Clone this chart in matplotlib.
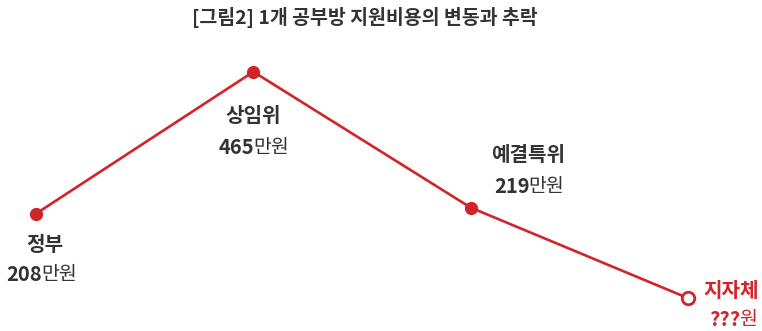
import matplotlib
matplotlib.use("Agg")
import matplotlib.pyplot as plt

plt.rcParams['font.family'] = ['Noto Sans CJK KR', 'DejaVu Sans']

# data
stages = ['정부', '상임위', '예결특위', '지자체']
amounts = [208, 465, 219, 55]          # last one unknown ("???")
amount_text = ['208', '465', '219', '???']
units = ['만원', '만원', '만원', '원']
title = '[그림2] 1개 공부방 지원비용의 변동과 추락'

RED = '#d2232a'
DARK = '#333333'

fig = plt.figure(figsize=(7.62, 3.31), dpi=100)
ax = fig.add_axes([0, 0, 1, 1])
ax.set_xlim(-0.166, 3.341)
ax.set_ylim(-4.6, 595)
ax.axis('off')

xs = list(range(len(stages)))
ax.plot(xs, amounts, color=RED, lw=1.9, zorder=2)
ax.plot(xs[:-1], amounts[:-1], 'o', color=RED, ms=8.5, zorder=3)
ax.plot(xs[-1:], amounts[-1:], 'o', mfc='white', mec=RED, mew=2, ms=9, zorder=3)

# label offsets in pixels: (name dx, name dy, split dx, value dy)
offsets = [(9, -31, 6, -61),
           (0, -44, 1, -76),
           (57, 53, 59, 21),
           (43, 8, 52, -21)]

for i, (name, val, unit) in enumerate(zip(stages, amount_text, units)):
    c = RED if i == len(stages) - 1 else DARK
    ndx, ndy, sdx, vdy = offsets[i]
    ax.annotate(name, (i, amounts[i]), xytext=(ndx, ndy), textcoords='offset pixels',
                ha='center', va='center', fontsize=14.5, fontweight='bold', color=c)
    ax.annotate(val, (i, amounts[i]), xytext=(sdx, vdy), textcoords='offset pixels',
                ha='right', va='center', fontsize=14.5, fontweight='bold', color=c)
    ax.annotate(unit, (i, amounts[i]), xytext=(sdx - 1, vdy), textcoords='offset pixels',
                ha='left', va='center', fontsize=14, color=c)

fig.text(365 / 762, 1 - 18 / 331, title, ha='center', va='center',
         fontsize=14, fontweight='bold', color=DARK)

fig.savefig('out.png', dpi=100)
